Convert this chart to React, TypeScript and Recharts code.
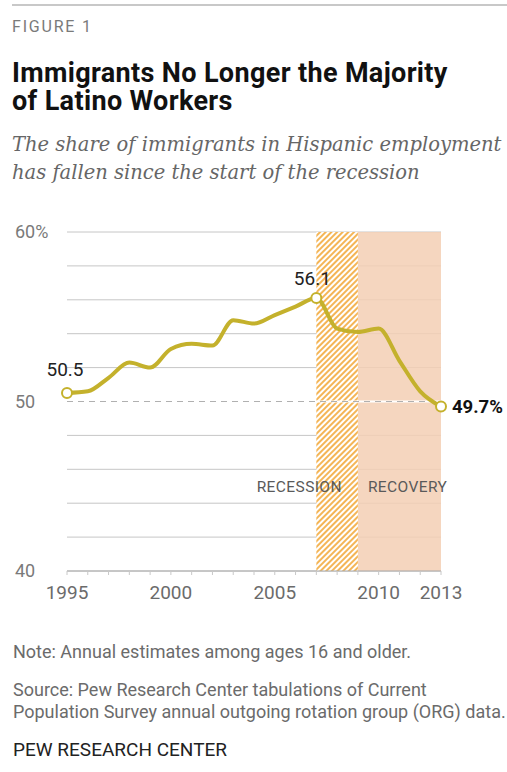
import * as React from "react";
import {
  LineChart,
  Line,
  XAxis,
  YAxis,
  CartesianGrid,
  ReferenceArea,
  ReferenceLine,
  LabelList,
} from "recharts";

const years = [
  1995, 1996, 1997, 1998, 1999, 2000, 2001, 2002, 2003, 2004, 2005, 2006,
  2007, 2008, 2009, 2010, 2011, 2012, 2013,
];
const immigrantShare = [
  50.5, 50.6, 51.4, 52.3, 52.0, 53.1, 53.4, 53.3, 54.8, 54.6, 55.1, 55.6,
  56.1, 54.3, 54.1, 54.3, 52.4, 50.6, 49.7,
];
const xTickLabels = [1995, 2000, 2005, 2010, 2013];
const yTickLabels = [40, 50, 60];
const yGridTicks = [40, 42, 44, 46, 48, 50, 52, 54, 56, 58, 60];
const labelledYears = [1995, 2007, 2013];
const recession = [2007, 2009];
const recovery = [2009, 2013];

const data = years.map((year, i) => ({ year, share: immigrantShare[i] }));

const SANS = "Roboto, 'Liberation Sans', Arial, sans-serif";
const SERIF = "'DejaVu Serif', Georgia, serif";
const LINE_COLOR = "#c4b12c";

const YTick = (props: any) => {
  const { y, payload } = props;
  const v = payload.value;
  if (!yTickLabels.includes(v)) return <g />;
  return (
    <text x={15} y={y} dy={6.4} fontFamily={SANS} fontSize={18} fill="#7a7a7a">
      {v === 60 ? "60%" : String(v)}
    </text>
  );
};

const XTick = (props: any) => {
  const { x, y, payload } = props;
  if (!xTickLabels.includes(payload.value)) return <g />;
  return (
    <text
      x={x}
      y={y}
      dy={22}
      textAnchor="middle"
      fontFamily={SANS}
      fontSize={19}
      fill="#6b6b6b"
    >
      {payload.value}
    </text>
  );
};

const renderDot = (props: any) => {
  const { cx, cy, index, payload } = props;
  if (!labelledYears.includes(payload.year)) return <g key={`d-${index}`} />;
  return (
    <circle
      key={`d-${index}`}
      cx={cx}
      cy={cy}
      r={5}
      fill="#fff"
      stroke={LINE_COLOR}
      strokeWidth={2}
    />
  );
};

const renderPointLabel = (props: any) => {
  const { x, y, value, index } = props;
  const year = years[index];
  if (year === 2013) {
    return (
      <text
        x={x + 11}
        y={y}
        dy={6.5}
        fontFamily={SANS}
        fontSize={18.5}
        fontWeight={700}
        fill="#111"
      >
        {value.toFixed(1)}%
      </text>
    );
  }
  if (!labelledYears.includes(year)) return null;
  return (
    <text
      x={year === 1995 ? x - 2 : x - 4}
      y={y}
      dy={year === 1995 ? -17 : -13}
      textAnchor="middle"
      fontFamily={SANS}
      fontSize={19}
      fill="#222"
    >
      {value.toFixed(1)}
    </text>
  );
};

const bandLabel = (text: string, side: "left" | "right") => (props: any) => {
  const { viewBox } = props;
  const x =
    side === "right" ? viewBox.x + viewBox.width - 16 : viewBox.x + 10;
  return (
    <text
      x={x}
      y={viewBox.y + viewBox.height * 0.75}
      dy={6}
      textAnchor={side === "right" ? "end" : "start"}
      fontFamily={SANS}
      fontSize={15.5}
      letterSpacing={0.4}
      fill="#5a5a5a"
    >
      {text}
    </text>
  );
};

const titleStyle: React.CSSProperties = {
  position: "absolute",
  left: 12,
  fontFamily: SANS,
  fontSize: 27,
  fontWeight: 700,
  letterSpacing: 0.35,
  lineHeight: "27px",
  height: 27,
  color: "#111",
  whiteSpace: "nowrap",
};

export default function App() {
  return (
    <div
      style={{
        position: "absolute",
        left: 0,
        top: 0,
        width: 507,
        height: 772,
        background: "#fff",
        overflow: "hidden",
      }}
    >
      <div
        style={{
          position: "absolute",
          left: 12,
          top: 4,
          right: 0,
          height: 2,
          background: "#c8c8c8",
        }}
      />
      <div
        style={{
          position: "absolute",
          left: 12,
          top: 19,
          fontFamily: SANS,
          fontSize: 16,
          lineHeight: "16px",
          letterSpacing: 1.8,
          color: "#7a7a7a",
        }}
      >
        FIGURE 1
      </div>
      <div style={{ ...titleStyle, top: 60 }}>
        Immigrants No Longer the Majority
      </div>
      <div style={{ ...titleStyle, top: 88 }}>of Latino Workers</div>
      <div
        style={{
          position: "absolute",
          left: 12,
          top: 131,
          width: 520,
          fontFamily: SERIF,
          fontStyle: "italic",
          fontSize: 19.5,
          lineHeight: "28px",
          color: "#666",
          whiteSpace: "nowrap",
        }}
      >
        The share of immigrants in Hispanic employment
        <br />
        has fallen since the start of the recession
      </div>

      <div style={{ position: "absolute", left: 0, top: 200 }}>
        <LineChart
          width={507}
          height={420}
          data={data}
          margin={{ top: 32, right: 66, bottom: 19, left: 12 }}
        >
          <defs>
            <pattern
              id="hatch"
              width="4"
              height="4"
              patternUnits="userSpaceOnUse"
              patternTransform="rotate(45)"
            >
              <rect width="4" height="4" fill="#fff" />
              <rect width="2" height="4" fill="#f4b556" />
            </pattern>
          </defs>
          <CartesianGrid vertical={false} stroke="#c6c6c6" />
          <XAxis
            type="number"
            dataKey="year"
            domain={[1995, 2013]}
            ticks={years}
            interval={0}
            tick={<XTick />}
            tickLine={{ stroke: "#c8c8c8" }}
            tickSize={4}
            axisLine={{ stroke: "#aaa" }}
            height={30}
          />
          <YAxis
            type="number"
            domain={[40, 60]}
            ticks={yGridTicks}
            interval={0}
            tick={<YTick />}
            axisLine={false}
            tickLine={false}
            width={55}
          />
          <ReferenceLine y={50} stroke="#fff" strokeWidth={2} />
          <ReferenceLine
            y={50}
            stroke="#b0b0b0"
            strokeDasharray="6 5"
            strokeWidth={1}
          />
          <ReferenceArea
            x1={recovery[0]}
            x2={recovery[1]}
            y1={40}
            y2={60}
            fill="#f3cfb4"
            fillOpacity={0.85}
            stroke="none"
            label={bandLabel("RECOVERY", "left")}
          />
          <ReferenceArea
            x1={recession[0]}
            x2={recession[1]}
            y1={40}
            y2={60}
            fill="url(#hatch)"
            fillOpacity={1}
            stroke="none"
            label={bandLabel("RECESSION", "right")}
          />
          <Line
            type="monotone"
            dataKey="share"
            stroke={LINE_COLOR}
            strokeWidth={4}
            dot={renderDot}
            activeDot={false}
            isAnimationActive={false}
          >
            <LabelList dataKey="share" content={renderPointLabel} />
          </Line>
        </LineChart>
      </div>

      <div
        style={{
          position: "absolute",
          left: 13,
          top: 641,
          fontFamily: SANS,
          fontSize: 18,
          lineHeight: "22px",
          color: "#6b6b6b",
          whiteSpace: "nowrap",
        }}
      >
        Note: Annual estimates among ages 16 and older.
      </div>
      <div
        style={{
          position: "absolute",
          left: 13,
          top: 679,
          width: 560,
          fontFamily: SANS,
          fontSize: 18,
          lineHeight: "22px",
          color: "#6b6b6b",
          whiteSpace: "nowrap",
        }}
      >
        Source: Pew Research Center tabulations of Current
        <br />
        Population Survey annual outgoing rotation group (ORG) data.
      </div>
      <div
        style={{
          position: "absolute",
          left: 13,
          top: 739,
          fontFamily: SANS,
          fontSize: 19,
          lineHeight: "22px",
          color: "#222",
          whiteSpace: "nowrap",
        }}
      >
        PEW RESEARCH CENTER
      </div>
    </div>
  );
}
